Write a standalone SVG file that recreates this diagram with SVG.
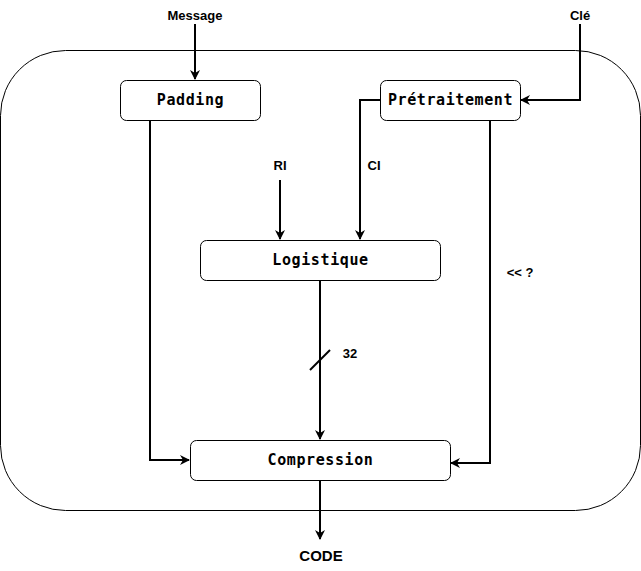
<svg xmlns="http://www.w3.org/2000/svg" width="641" height="571" viewBox="0 0 641 571">
<style>
.box{fill:#fff;stroke:#000;stroke-width:1}
.nt{font-family:"DejaVu Sans Mono",monospace;font-size:15px;font-weight:bold;text-anchor:middle;letter-spacing:0.6px}
.lb{font-family:"Liberation Sans",Arial,sans-serif;font-size:13px;font-weight:bold;text-anchor:middle}
.ln{fill:none;stroke:#000;stroke-width:2}
</style>
<defs>
<marker id="ah" viewBox="0 0 10 10" refX="9" refY="5" markerWidth="5" markerHeight="5" orient="auto" markerUnits="strokeWidth">
<path d="M0,0 L10,5 L0,10 L3,5 Z" fill="#000"/>
</marker>
</defs>
<g id="frame"><rect x="0.5" y="50.5" width="640" height="460" rx="65" ry="65" fill="#fff" stroke="#000" stroke-width="1"/></g>
<g id="padding"><rect class="box" x="120.5" y="80.5" width="140" height="40" rx="6"/><text class="nt" x="190.5" y="105">Padding</text></g>
<g id="pretraitement"><rect class="box" x="380.5" y="80.5" width="140" height="40" rx="6"/><text class="nt" x="450.5" y="105">Prétraitement</text></g>
<g id="logistique"><rect class="box" x="200.5" y="240.5" width="240" height="40" rx="6"/><text class="nt" x="320.5" y="265">Logistique</text></g>
<g id="compression"><rect class="box" x="190.5" y="440.5" width="260" height="40" rx="6"/><text class="nt" x="320.5" y="465">Compression</text></g>
<g id="labels">
<text class="lb" x="195" y="20">Message</text>
<text class="lb" x="580" y="20">Clé</text>
<text class="lb" x="280" y="170">RI</text>
<text class="lb" x="374" y="170">CI</text>
<text class="lb" x="520" y="277">&lt;&lt; ?</text>
<text class="lb" x="350" y="358">32</text>
<text class="lb" x="321" y="561" style="font-size:15px">CODE</text>
</g>
<g id="connectors">
<path class="ln" d="M195,24 V79" marker-end="url(#ah)"/>
<path class="ln" d="M580,24 V100 H521" marker-end="url(#ah)"/>
<path class="ln" d="M150,120 V460 H189" marker-end="url(#ah)"/>
<path class="ln" d="M380,100 H360 V239" marker-end="url(#ah)"/>
<path class="ln" d="M490,120 V463 H451" marker-end="url(#ah)"/>
<path class="ln" d="M280,180 V239" marker-end="url(#ah)"/>
<path class="ln" d="M320,280 V439" marker-end="url(#ah)"/>
<path class="ln" d="M310,370 L330,350"/>
<path class="ln" d="M320,480 V539" marker-end="url(#ah)"/>
</g>
</svg>
